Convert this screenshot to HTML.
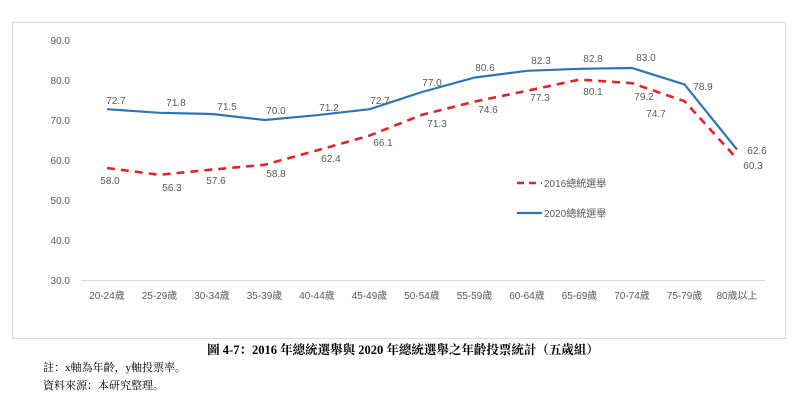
<!DOCTYPE html>
<html><head><meta charset="utf-8"><style>
html,body{margin:0;padding:0;background:#fff;width:800px;height:405px;overflow:hidden}
svg{display:block}
</style></head><body>
<svg width="800" height="405" xmlns="http://www.w3.org/2000/svg" font-family="'Liberation Sans','Noto Sans CJK TC',sans-serif">
<rect x="12.5" y="22.5" width="773" height="316" fill="#fff" stroke="#d9d9d9"/>
<g font-size="10" fill="#595959" text-anchor="end">
<text x="70" y="44">90.0</text><text x="70" y="84">80.0</text><text x="70" y="124">70.0</text>
<text x="70" y="164">60.0</text><text x="70" y="204">50.0</text><text x="70" y="244">40.0</text><text x="70" y="284">30.0</text>
</g>
<line x1="81" y1="280.5" x2="765" y2="280.5" stroke="#d9d9d9"/>
<g font-size="10" fill="#595959" text-anchor="middle">
<text x="107" y="299">20-24歲</text><text x="159.5" y="299">25-29歲</text><text x="212" y="299">30-34歲</text>
<text x="264.5" y="299">35-39歲</text><text x="317" y="299">40-44歲</text><text x="369.5" y="299">45-49歲</text>
<text x="422" y="299">50-54歲</text><text x="474.5" y="299">55-59歲</text><text x="527" y="299">60-64歲</text>
<text x="579.5" y="299">65-69歲</text><text x="632" y="299">70-74歲</text><text x="684.5" y="299">75-79歲</text>
<text x="737" y="299">80歲以上</text>
</g>
<polyline fill="none" stroke="#2e75b6" stroke-width="2.2" stroke-linejoin="round" points="107,109.2 159.5,112.8 212,114 264.5,120 317,115.2 369.5,109.2 422,92 474.5,77.6 527,70.8 579.5,68.8 632,68 684.5,84.4 737,149.6"/>
<polyline fill="none" stroke="#e0242b" stroke-width="2.6" stroke-dasharray="8,6" stroke-linejoin="round" points="107,168 159.5,174.8 212,169.6 264.5,164.8 317,150.4 369.5,135.6 422,114.8 474.5,101.6 527,90.8 579.5,79.6 632,83.2 684.5,101.2 737,158.8"/>
<g font-size="10" fill="#595959" text-anchor="middle">
<text x="116" y="104">72.7</text><text x="176" y="106">71.8</text><text x="227" y="110">71.5</text><text x="276" y="114">70.0</text>
<text x="329" y="111">71.2</text><text x="380" y="104">72.7</text><text x="432" y="86">77.0</text><text x="485" y="71">80.6</text>
<text x="541" y="64">82.3</text><text x="593" y="62">82.8</text><text x="646" y="61">83.0</text><text x="703" y="90">78.9</text>
<text x="757" y="154">62.6</text>
<text x="110" y="184">58.0</text><text x="172" y="191">56.3</text><text x="216" y="184">57.6</text><text x="276" y="177">58.8</text>
<text x="331" y="162">62.4</text><text x="383" y="146">66.1</text><text x="437" y="127">71.3</text><text x="488" y="113">74.6</text>
<text x="540" y="101">77.3</text><text x="593" y="95">80.1</text><text x="644" y="100">79.2</text><text x="656" y="117">74.7</text>
<text x="753" y="169">60.3</text>
</g>
<line x1="517" y1="183" x2="542" y2="183" stroke="#e0242b" stroke-width="2.6" stroke-dasharray="7,5"/>
<line x1="517" y1="213" x2="542" y2="213" stroke="#2e75b6" stroke-width="2.2"/>
<g font-size="10" fill="#595959"><text x="544" y="187">2016總統選舉</text><text x="544" y="217">2020總統選舉</text></g>
<text x="403" y="354" text-anchor="middle" font-size="12.5" font-weight="bold" font-family="'Liberation Serif','Noto Serif CJK SC',serif" fill="#000">圖 4-7：2016 年總統選舉與 2020 年總統選舉之年齡投票統計（五歲組）</text>
<g font-size="11" font-family="'Liberation Serif','Noto Serif CJK SC',serif" fill="#000">
<text x="43" y="371">註：x軸為年齡，y軸投票率。</text>
<text x="43" y="389">資料來源：本研究整理。</text>
</g>
</svg>
</body></html>
